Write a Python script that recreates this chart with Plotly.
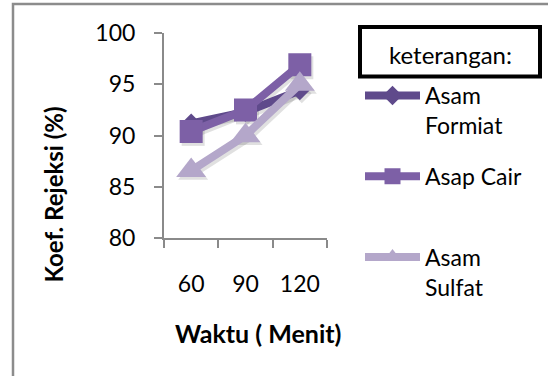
import plotly.graph_objects as go

# Data
waktu = ["60", "90", "120"]
asam_formiat = [91.2, 92.3, 94.4]
asap_cair = [90.4, 92.5, 96.9]
asam_sulfat = [86.6, 90.0, 95.0]

series_names = ["Asam<br>Formiat", "Asap Cair<br> ", "Asam<br>Sulfat"]
y_ticks = [80, 85, 90, 95, 100]

colors = ["#5f4a8b", "#7d60a6", "#b4a7ca"]
symbols = ["diamond", "square", "triangle-up"]
sizes = [15, 23, 26]

W, H = 548, 376
L, R, T, B = 164, 329, 33, 241   # paper box in pixels


def px(x):
    return (x - L) / (R - L)


def py(y):
    return (B - y) / (B - T)


fig = go.Figure()

# soft drop shadow, drawn first on a slightly offset, hidden copy of the axes
for vals, sym, size in zip([asam_formiat, asap_cair, asam_sulfat], symbols, sizes):
    fig.add_trace(go.Scatter(
        x=waktu, y=vals, mode="lines+markers", xaxis="x", yaxis="y",
        line=dict(color="rgba(0,0,0,0.12)", width=8),
        marker=dict(symbol=sym, size=size, color="rgba(0,0,0,0.12)"),
        showlegend=False, hoverinfo="skip",
    ))

for name, vals, col, sym, size in zip(series_names, [asam_formiat, asap_cair, asam_sulfat],
                                      colors, symbols, sizes):
    fig.add_trace(go.Scatter(
        x=waktu, y=vals, name=name, mode="lines+markers",
        xaxis="x2", yaxis="y2", legendgroup=name,
        line=dict(color=col, width=8),
        marker=dict(symbol=sym, size=size, color=col),
    ))

axis_col = "#8a8a8a"
font_family = "Lato"

fig.update_layout(
    width=W, height=H,
    margin=dict(l=L, r=W - R, t=T, b=H - B, pad=0),
    paper_bgcolor="white", plot_bgcolor="rgba(0,0,0,0)",
    font=dict(family=font_family, color="black", size=23),
    xaxis=dict(domain=[px(166), px(329)], type="category", range=[-0.5, 2.5],
               visible=False, anchor="y", fixedrange=True),
    yaxis=dict(domain=[py(241), py(36)], range=[80, 100], visible=False,
               anchor="x", fixedrange=True),
    xaxis2=dict(
        domain=[0, px(327)], type="category", range=[-0.5, 2.5], anchor="y2",
        tickson="boundaries", ticks="outside", ticklen=8, tickwidth=2, tickcolor=axis_col,
        showline=True, linecolor=axis_col, linewidth=2, showgrid=False, zeroline=False,
        tickfont=dict(size=23), ticklabelstandoff=24, fixedrange=True,
    ),
    yaxis2=dict(
        domain=[py(238.3), 1], range=[80, 100], tickvals=y_ticks, anchor="x2",
        ticks="outside", ticklen=8, tickwidth=2, tickcolor=axis_col,
        showline=True, linecolor=axis_col, linewidth=2, showgrid=False, zeroline=False,
        tickfont=dict(size=23), ticklabelstandoff=14, fixedrange=True,
    ),
    legend=dict(
        x=px(360), y=py(74), xanchor="left", yanchor="top",
        font=dict(size=23), valign="top", traceorder="grouped",
        tracegroupgap=18, itemwidth=55, maxheight=400, bgcolor="rgba(0,0,0,0)",
    ),
    showlegend=True,
)

# outer chart frame
fig.add_shape(type="rect", xref="paper", yref="paper",
              x0=px(13), x1=px(600), y0=py(420), y1=py(4),
              line=dict(color="#8c8c8c", width=2.5), layer="below")

# "keterangan:" caption box
fig.add_shape(type="rect", xref="paper", yref="paper",
              x0=px(360), x1=px(540), y0=py(76.5), y1=py(27),
              line=dict(color="black", width=4))
fig.add_annotation(text="keterangan:", xref="paper", yref="paper",
                   x=px(450), y=py(55), showarrow=False,
                   font=dict(size=24), xanchor="center", yanchor="middle")

# axis titles
fig.add_annotation(text="<b>Koef. Rejeksi (%)</b>", xref="paper", yref="paper",
                   x=px(52.5), y=py(195), showarrow=False, textangle=-90,
                   font=dict(size=24), xanchor="center", yanchor="middle")
fig.add_annotation(text="<b>Waktu ( Menit)</b>", xref="paper", yref="paper",
                   x=px(258), y=py(333), showarrow=False,
                   font=dict(size=25), xanchor="center", yanchor="middle")

fig.write_html("out.html")
